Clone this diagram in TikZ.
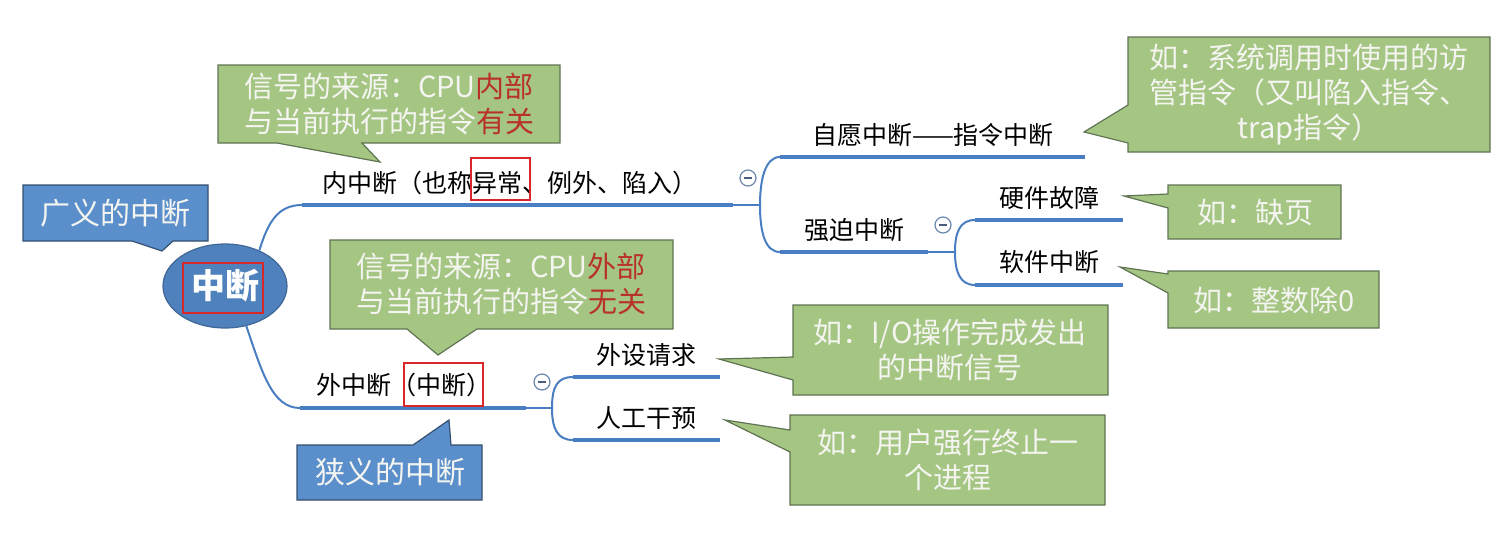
\documentclass[tikz,border=0pt]{standalone}
\usepackage{fontspec}
\setmainfont{Noto Sans CJK SC}
\usetikzlibrary{shapes.geometric}
\definecolor{mapblue}{HTML}{4A7EC2}
\definecolor{callgreen}{HTML}{A5C583}
\definecolor{callrim}{HTML}{5F7452}
\definecolor{callblue}{HTML}{5B8FCC}
\definecolor{bluerim}{HTML}{34506F}
\definecolor{coreblue}{HTML}{4F81BD}
\definecolor{calltxt}{HTML}{F4F5F0}
\definecolor{wordred}{HTML}{B8322A}
\definecolor{hired}{HTML}{D8262B}
\definecolor{foldrim}{HTML}{6A86B0}
\newcommand{\hot}[1]{\textcolor{wordred}{#1}}

\begin{document}
\begin{tikzpicture}[x=0.5pt,y=-0.5pt,
  branch/.style={draw=mapblue,line width=2.3pt},
  twig/.style={draw=mapblue,line width=1pt},
  lbl/.style={font=\fontsize{12.5}{15}\selectfont,inner sep=0pt},
  greencall/.style={fill=callgreen,draw=callrim,line width=0.6pt},
  bluecall/.style={fill=callblue,draw=bluerim,line width=0.6pt},
  calltext/.style={text=calltxt,align=center,inner sep=0pt,font=\fontsize{14.5}{17.5}\selectfont},
  hilite/.style={draw=hired,line width=1.4pt},
  fold/.style={circle,draw=foldrim,line width=0.6pt,minimum size=8pt,inner sep=0pt,
    path picture={\draw[foldrim!70!black,line width=0.7pt]
      ([xshift=2pt]path picture bounding box.west) -- ([xshift=-2pt]path picture bounding box.east);}}]
\useasboundingbox (0,0) rectangle (1512,537);

% callouts
\draw[bluecall] (23,185) -- (208,185) -- (208,241) -- (173,241) -- (162,251) -- (132,241) -- (23,241) -- cycle;
\node[calltext,font=\fontsize{15}{18}\selectfont] (broad) at (115,213) {广义的中断};
\draw[bluecall] (297,445) -- (413,445) -- (449,420) -- (451,445) -- (482,445) -- (482,500) -- (297,500) -- cycle;
\node[calltext,font=\fontsize{15}{18}\selectfont] (narrow) at (390,472) {狭义的中断};
\draw[greencall] (218,65) -- (560,65) -- (560,143) -- (362,143) -- (380,162) -- (277,143) -- (218,143) -- cycle;
\node[calltext] (insrc) at (389,104) {信号的来源：CPU\hot{内部}\\与当前执行的指令\hot{有关}};
\draw[greencall] (330,240) -- (673,240) -- (673,329) -- (477,329) -- (438,355) -- (407,329) -- (330,329) -- cycle;
\node[calltext] (exsrc) at (501,284) {信号的来源：CPU\hot{外部}\\与当前执行的指令\hot{无关}};
\draw[greencall] (1128,37) -- (1490,37) -- (1490,152) -- (1128,152) -- (1128,143) -- (1084,132) -- (1128,105) -- cycle;
\node[calltext] (volnote) at (1309,95) {如：系统调用时使用的访\\管指令（又叫陷入指令、\\trap指令）};
\draw[greencall] (1168,185) -- (1341,185) -- (1341,239) -- (1168,239) -- (1168,208) -- (1124,196) -- (1168,194) -- cycle;
\node[calltext] (hwnote) at (1255,212) {如：缺页};
\draw[greencall] (1168,271) -- (1379,271) -- (1379,328) -- (1168,328) -- (1168,293) -- (1120,267) -- (1168,274) -- cycle;
\node[calltext] (swnote) at (1274,300) {如：整数除0};
\draw[greencall] (793,305) -- (1108,305) -- (1108,395) -- (793,395) -- (793,380) -- (719,359) -- (793,357) -- cycle;
\node[calltext] (devnote) at (950,350) {如：I/O操作完成发出\\的中断信号};
\draw[greencall] (790,415) -- (1105,415) -- (1105,505) -- (790,505) -- (790,452) -- (725,420) -- (790,430) -- cycle;
\node[calltext] (mannote) at (948,460) {如：用户强行终止一\\个进程};

% root
\node[ellipse,fill=coreblue,draw=coreblue!80!black,line width=0.6pt,minimum width=62pt,minimum height=42pt,
  text=white,font=\fontsize{17}{20}\selectfont\bfseries] (core) at (225,286) {中断};
\draw[hilite] (183,263) rectangle (263,313);

% branch ends
\coordinate (inA) at (302,205); \coordinate (inB) at (733,205); \coordinate (inS) at (760,205);
\coordinate (volA) at (780,157); \coordinate (volB) at (1085,157);
\coordinate (forA) at (780,252); \coordinate (forB) at (928,252); \coordinate (forS) at (955,252);
\coordinate (hwA) at (975,220); \coordinate (hwB) at (1123,220);
\coordinate (swA) at (975,285); \coordinate (swB) at (1123,285);
\coordinate (exA) at (300,408); \coordinate (exB) at (526,408); \coordinate (exS) at (552,408);
\coordinate (devA) at (573,377); \coordinate (devB) at (720,377);
\coordinate (manA) at (573,440); \coordinate (manB) at (720,440);

\draw[twig] (core.46) .. controls (268,222) and (278,205) .. (inA);
\draw[twig] (core.-62) .. controls (262,372) and (272,408) .. (exA);
\draw[branch] (inA) -- (inB);
\draw[twig] (inB) -- (inS);
\draw[twig] (inS) .. controls (760,180) and (765,157) .. (volA);
\draw[twig] (inS) .. controls (760,232) and (765,252) .. (forA);
\draw[branch] (volA) -- (volB);
\draw[branch] (forA) -- (forB);
\draw[twig] (forB) -- (forS);
\draw[twig] (forS) .. controls (955,232) and (960,220) .. (hwA);
\draw[twig] (forS) .. controls (955,272) and (960,285) .. (swA);
\draw[branch] (hwA) -- (hwB);
\draw[branch] (swA) -- (swB);
\draw[branch] (exA) -- (exB);
\draw[twig] (exB) -- (exS);
\draw[twig] (exS) .. controls (552,387) and (557,377) .. (devA);
\draw[twig] (exS) .. controls (552,428) and (557,440) .. (manA);
\draw[branch] (devA) -- (devB);
\draw[branch] (manA) -- (manB);

% labels
\node[lbl] (inner) at (510,183) {内中断（也称异常、例外、陷入）};
\draw[hilite] (471,158) rectangle (530,200);
\node[lbl] (vol) at (933,135) {自愿中断——指令中断};
\node[lbl] (forced) at (854,230) {强迫中断};
\node[lbl] (hw) at (1049,198) {硬件故障};
\node[lbl] (sw) at (1049,262) {软件中断};
\node[lbl] (outer) at (404,385) {外中断（中断）};
\draw[hilite] (404,363) rectangle (483,406);
\node[lbl] (dev) at (646,355) {外设请求};
\node[lbl] (man) at (646,418) {人工干预};

\node[fold] (inFold) at (748,178) {};
\node[fold] (forFold) at (943,225) {};
\node[fold] (exFold) at (542,382) {};
\end{tikzpicture}
\end{document}
